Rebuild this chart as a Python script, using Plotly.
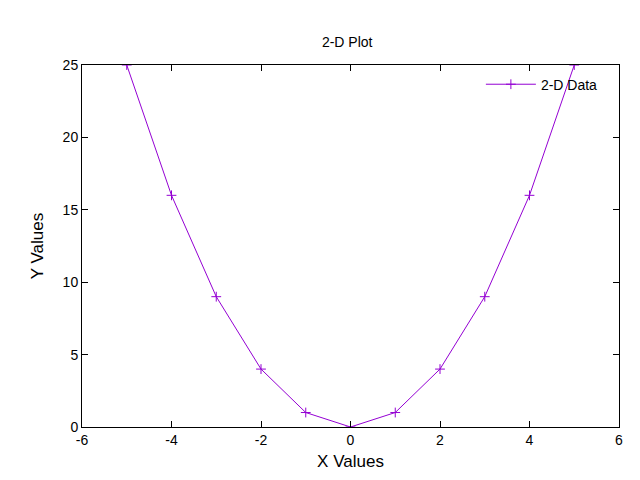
import plotly.graph_objects as go

x_vals = [-5, -4, -3, -2, -1, 0, 1, 2, 3, 4, 5]
y_vals = [25, 16, 9, 4, 1, 0, 1, 4, 9, 16, 25]
x_ticks = [-6, -4, -2, 0, 2, 4, 6]
y_ticks = [0, 5, 10, 15, 20, 25]

purple = '#9400d3'

fig = go.Figure()
fig.add_trace(go.Scatter(
    x=x_vals, y=y_vals, mode='lines+markers', name='2-D Data', showlegend=True,
    line=dict(color=purple, width=1),
    marker=dict(symbol='cross-thin', size=7, line=dict(color=purple, width=1), color=purple)
))

axis_style = dict(showline=True, linecolor='black', linewidth=1, mirror='ticks',
                  ticks='inside', ticklen=6, tickcolor='black', showgrid=False,
                  zeroline=False, automargin=False, tickfont=dict(size=14, color='black'))

fig.update_layout(
    width=640, height=480,
    font=dict(family='Liberation Sans, Arial', size=14, color='black'),
    title=dict(text='2-D Plot', x=0.53, xanchor='center', y=0.94, font=dict(size=14)),
    plot_bgcolor='white', paper_bgcolor='white',
    margin=dict(l=74, r=29, t=57, b=61, autoexpand=False),
    xaxis=dict(range=[-6, 6], tickvals=x_ticks, ticktext=[str(v).replace('\u2212', '-') for v in x_ticks],
               title=dict(text='X Values', standoff=8), **axis_style),
    yaxis=dict(range=[0, 25], tickvals=y_ticks, ticktext=[str(v) for v in y_ticks],
               title=dict(text='Y Values', standoff=14), **axis_style),
    legend=dict(x=0.97, y=0.99, xanchor='right', yanchor='top', bgcolor='rgba(0,0,0,0)',
                itemwidth=50, font=dict(size=14))
)

fig.write_html("out.html")
